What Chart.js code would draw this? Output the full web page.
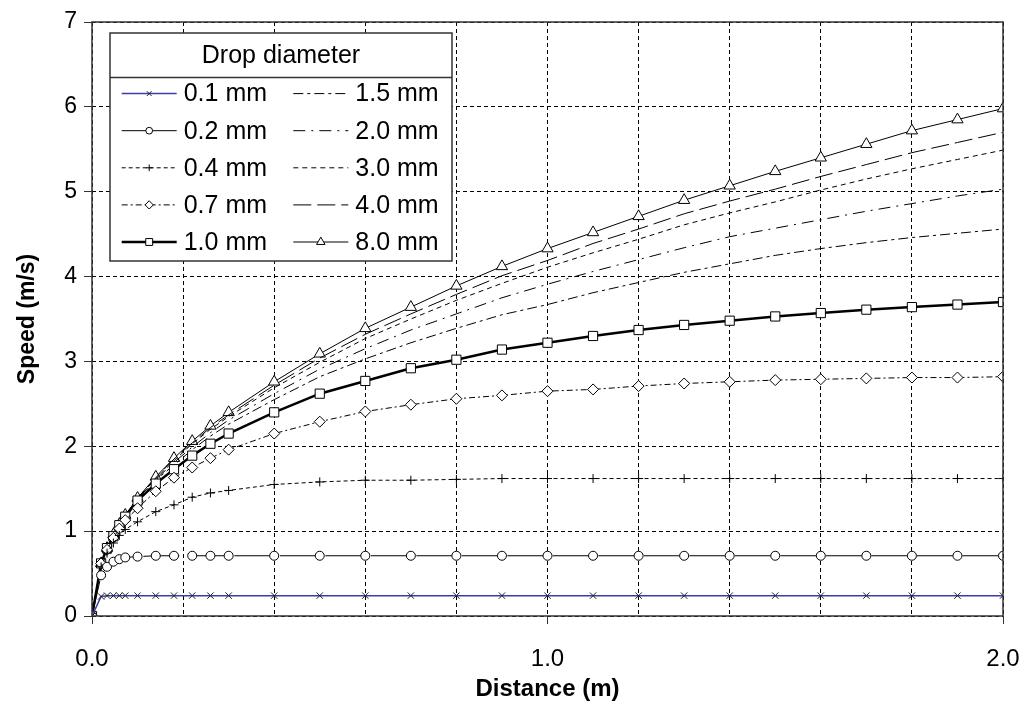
<!DOCTYPE html>
<html>
<head>
<meta charset="utf-8">
<title>Drop speed vs distance</title>
<script src="https://cdn.jsdelivr.net/npm/chart.js@4.4.0/dist/chart.umd.min.js"></script>
<style>
  html, body { margin: 0; padding: 0; background: #fff; }
</style>
</head>
<body>
<canvas id="dropChart" width="1025" height="717"></canvas>
<script>
// fall distance (m)
const distance = [0, 0.02, 0.033, 0.047, 0.06, 0.073, 0.1, 0.14, 0.18, 0.22, 0.26, 0.3,
  0.4, 0.5, 0.6, 0.7, 0.8, 0.9, 1.0, 1.1, 1.2, 1.3, 1.4, 1.5, 1.6, 1.7, 1.8, 1.9, 2.0];

const diameters = ['0.1 mm', '0.2 mm', '0.4 mm', '0.7 mm', '1.0 mm',
  '1.5 mm', '2.0 mm', '3.0 mm', '4.0 mm', '8.0 mm'];

// speed (m/s)
const speed01 = [0, 0.23, 0.24, 0.24, 0.24, 0.24, 0.24, 0.24, 0.24, 0.24, 0.24, 0.24,
  0.24, 0.24, 0.24, 0.24, 0.24, 0.24, 0.24, 0.24, 0.24, 0.24, 0.24, 0.24, 0.24, 0.24, 0.24, 0.24, 0.24];
const speed02 = [0, 0.48, 0.58, 0.64, 0.67, 0.69, 0.70, 0.71, 0.71, 0.71, 0.71, 0.71,
  0.71, 0.71, 0.71, 0.71, 0.71, 0.71, 0.71, 0.71, 0.71, 0.71, 0.71, 0.71, 0.71, 0.71, 0.71, 0.71, 0.71];
const speed04 = [0, 0.58, 0.74, 0.86, 0.95, 1.02, 1.11, 1.23, 1.31, 1.40, 1.45, 1.48,
  1.55, 1.58, 1.60, 1.60, 1.61, 1.62, 1.62, 1.62, 1.62, 1.62, 1.62, 1.62, 1.62, 1.62, 1.62, 1.62, 1.62];
const speed07 = [0, 0.62, 0.78, 0.92, 1.03, 1.13, 1.27, 1.47, 1.63, 1.75, 1.86, 1.96,
  2.15, 2.29, 2.41, 2.49, 2.56, 2.60, 2.65, 2.67, 2.71, 2.74, 2.76, 2.78, 2.79, 2.80, 2.81, 2.81, 2.82];
const speed10 = [0, 0.62, 0.80, 0.94, 1.07, 1.17, 1.36, 1.56, 1.73, 1.89, 2.03, 2.15,
  2.40, 2.62, 2.77, 2.92, 3.02, 3.14, 3.22, 3.30, 3.37, 3.43, 3.48, 3.53, 3.57, 3.61, 3.64, 3.67, 3.70];
const speed15 = [0, 0.62, 0.80, 0.95, 1.07, 1.18, 1.37, 1.60, 1.78, 1.96, 2.12, 2.26,
  2.55, 2.82, 3.03, 3.22, 3.39, 3.55, 3.67, 3.81, 3.93, 4.05, 4.15, 4.25, 4.33, 4.40, 4.46, 4.51, 4.56];
const speed20 = [0, 0.62, 0.80, 0.95, 1.08, 1.18, 1.38, 1.61, 1.81, 1.99, 2.16, 2.31,
  2.62, 2.91, 3.15, 3.37, 3.56, 3.75, 3.91, 4.06, 4.20, 4.34, 4.47, 4.57, 4.67, 4.77, 4.86, 4.95, 5.03];
const speed30 = [0, 0.62, 0.80, 0.96, 1.08, 1.19, 1.38, 1.62, 1.83, 2.03, 2.20, 2.35,
  2.69, 2.99, 3.27, 3.50, 3.72, 3.92, 4.11, 4.28, 4.44, 4.61, 4.75, 4.88, 5.02, 5.15, 5.27, 5.38, 5.49];
const speed40 = [0, 0.62, 0.80, 0.96, 1.08, 1.19, 1.39, 1.63, 1.85, 2.04, 2.22, 2.37,
  2.72, 3.04, 3.32, 3.56, 3.79, 4.01, 4.19, 4.39, 4.56, 4.74, 4.89, 5.03, 5.18, 5.32, 5.46, 5.58, 5.70];
const speed80 = [0, 0.62, 0.80, 0.96, 1.08, 1.19, 1.39, 1.64, 1.86, 2.06, 2.24, 2.40,
  2.76, 3.09, 3.39, 3.64, 3.89, 4.12, 4.33, 4.52, 4.71, 4.90, 5.07, 5.24, 5.40, 5.56, 5.72, 5.85, 5.98];

const speeds = [speed01, speed02, speed04, speed07, speed10, speed15, speed20, speed30, speed40, speed80];

const xTicks = [0, 1, 2];
const yTicks = [0, 1, 2, 3, 4, 5, 6, 7];

// line look for each diameter
const looks = [
  { color: '#3c3cab', width: 1.5, dash: [], point: 'crossRot', r: 4.5, pointColor: '#222' },
  { color: '#000', width: 1, dash: [36, 9.5], legendDash: [], point: 'circle', r: 4.5 },
  { color: '#000', width: 1, dash: [4, 3], point: 'cross', r: 4.5 },
  { color: '#000', width: 1, dash: [6, 3, 2, 3], point: 'rectRot', r: 5.5 },
  { color: '#000', width: 2.5, dash: [], point: 'rect', r: 6.5 },
  { color: '#000', width: 1, dash: [10, 4, 3, 4], point: false, r: 0 },
  { color: '#000', width: 1, dash: [12, 6, 2, 6], point: false, r: 0 },
  { color: '#000', width: 1, dash: [5, 4], point: false, r: 0 },
  { color: '#000', width: 1, dash: [18, 6], point: false, r: 0 },
  { color: '#000', width: 1, dash: [], point: 'triangle', r: 6.5 }
];

const FONT = "'Liberation Sans', Arial, sans-serif";

const datasets = diameters.map(function(label, i) {
  const lk = looks[i];
  return {
    label: label,
    data: distance.map(function(d, j) { return { x: d, y: speeds[i][j] }; }),
    borderColor: lk.color,
    borderWidth: lk.width,
    borderDash: lk.dash,
    legendDash: lk.legendDash || lk.dash,
    pointStyle: lk.point || 'circle',
    pointRadius: lk.r,
    pointHoverRadius: lk.r,
    pointBorderColor: lk.pointColor || '#000',
    pointBackgroundColor: '#fff',
    pointBorderWidth: 1,
    tension: 0,
    fill: false
  };
});

// box round the plot area
const framePlugin = {
  id: 'frame',
  afterDraw(chart) {
    const a = chart.chartArea;
    const ctx = chart.ctx;
    ctx.save();
    ctx.strokeStyle = '#333';
    ctx.lineWidth = 1.5;
    ctx.strokeRect(a.left, a.top, a.right - a.left, a.bottom - a.top);
    ctx.restore();
  }
};

// legend box with title row and two columns
const legendPlugin = {
  id: 'dropLegend',
  afterDatasetsDraw(chart) {
    const ctx = chart.ctx;
    const a = chart.chartArea;
    const x = a.left + 18, y = a.top + 11, w = 342, h = 228;
    ctx.save();
    ctx.fillStyle = '#fff';
    ctx.fillRect(x, y, w, h);
    ctx.strokeStyle = '#333';
    ctx.lineWidth = 1.5;
    ctx.strokeRect(x, y, w, h);
    ctx.beginPath();
    ctx.moveTo(x, y + 44.6);
    ctx.lineTo(x + w, y + 44.6);
    ctx.stroke();

    ctx.fillStyle = '#000';
    ctx.font = '25px ' + FONT;
    ctx.textAlign = 'center';
    ctx.textBaseline = 'middle';
    ctx.fillText('Drop diameter', x + w / 2, y + 23.5);

    ctx.textAlign = 'left';
    chart.data.datasets.forEach(function(ds, i) {
      const col = Math.floor(i / 5), row = i % 5;
      const sx = x + 11.7 + col * 171.6;
      const cy = y + 60.6 + row * 37.1;
      ctx.save();
      ctx.strokeStyle = ds.borderColor;
      ctx.lineWidth = ds.borderWidth;
      ctx.setLineDash(ds.legendDash);
      ctx.beginPath();
      ctx.moveTo(sx, cy);
      ctx.lineTo(sx + 55, cy);
      ctx.stroke();
      ctx.restore();
      if (ds.pointRadius > 0) {
        ctx.save();
        ctx.fillStyle = '#fff';
        ctx.strokeStyle = ds.pointBorderColor;
        ctx.lineWidth = 1;
        Chart.helpers.drawPoint(ctx, {
          pointStyle: ds.pointStyle,
          radius: ds.pointRadius * 0.75,
          rotation: 0,
          borderWidth: 1
        }, sx + 27.5, cy);
        ctx.restore();
      }
      ctx.fillStyle = '#000';
      ctx.font = '25px ' + FONT;
      ctx.fillText(ds.label, sx + 62, cy + 1);
    });
    ctx.restore();
  }
};

const ctx = document.getElementById('dropChart').getContext('2d');
const dropChart = new Chart(ctx, {
  type: 'line',
  data: { datasets: datasets },
  plugins: [framePlugin, legendPlugin],
  options: {
    responsive: false,
    animation: false,
    devicePixelRatio: 1,
    layout: { padding: { top: 22, right: 22, left: 0, bottom: 0 } },
    plugins: {
      legend: { display: false },
      tooltip: { enabled: false }
    },
    scales: {
      x: {
        type: 'linear',
        min: 0,
        max: 2,
        afterFit: function(scale) {
          scale.height = 101;
          scale.paddingLeft = 0;
          scale.paddingRight = 0;
        },
        ticks: {
          stepSize: 0.2,
          autoSkip: false,
          maxRotation: 0,
          padding: 21,
          color: '#000',
          font: { family: FONT, size: 24 },
          callback: function(v) {
            const hit = xTicks.find(function(t) { return Math.abs(t - v) < 1e-6; });
            return hit === undefined ? '' : hit.toFixed(1);
          }
        },
        grid: {
          color: '#000',
          lineWidth: 1,
          borderDash: [4, 3],
          tickLength: 8,
          tickBorderDash: [],
          tickColor: function(c) {
            const v = c.tick ? c.tick.value : -1;
            return xTicks.some(function(t) { return Math.abs(t - v) < 1e-6; }) ? '#333' : 'rgba(0,0,0,0)';
          }
        },
        border: { display: false, dash: [4, 3] },
        title: {
          display: true,
          text: 'Distance (m)',
          color: '#000',
          font: { family: FONT, size: 24, weight: 'bold' },
          padding: { top: 0, bottom: 13 }
        }
      },
      y: {
        min: 0,
        max: 7,
        afterFit: function(scale) {
          scale.width = 92;
          scale.paddingTop = 0;
          scale.paddingBottom = 0;
        },
        ticks: {
          stepSize: 1,
          padding: 7,
          color: '#000',
          font: { family: FONT, size: 23 },
          callback: function(v) { return yTicks.includes(v) ? String(v) : ''; }
        },
        grid: {
          color: '#000',
          lineWidth: 1,
          borderDash: [4, 3],
          tickLength: 8,
          tickBorderDash: [],
          tickColor: '#333'
        },
        border: { display: false, dash: [4, 3] },
        title: {
          display: true,
          text: 'Speed (m/s)',
          color: '#000',
          font: { family: FONT, size: 23, weight: 'bold' },
          padding: { top: 14, bottom: 0 }
        }
      }
    }
  }
});
</script>
</body>
</html>
